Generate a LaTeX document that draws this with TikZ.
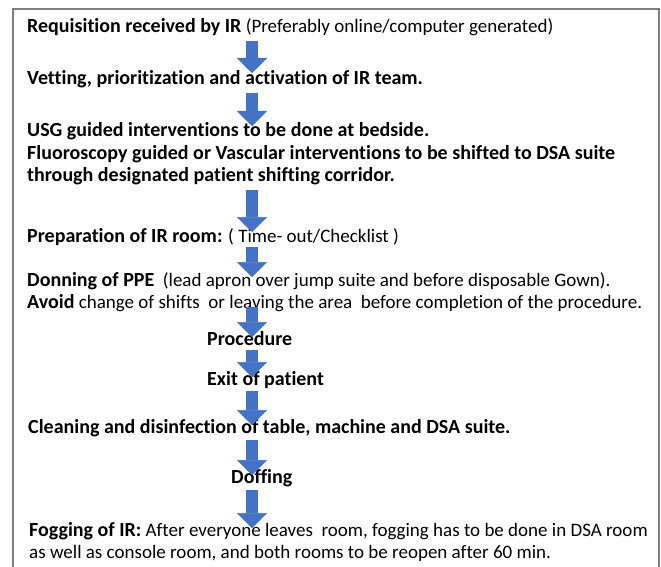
\documentclass[tikz,border=0pt]{standalone}
\usepackage{fontspec}
\setmainfont{Carlito}[Ligatures=CommonOff]
\usepackage{tikz}
\usetikzlibrary{arrows.meta}

\definecolor{arrowblue}{HTML}{4472C4}
\definecolor{framegray}{HTML}{7F7F7F}

% bold lead-in of a step
\newcommand{\steplead}[1]{{\fontsize{20}{23}\selectfont\bfseries #1}}

\begin{document}
\begin{tikzpicture}[
    x=1pt, y=-1pt,
    step text/.style={anchor=base west, inner sep=0pt, font=\fontsize{19}{23}\selectfont},
    flow arrow/.style={
        arrowblue,
        line width=12pt,
        -{Triangle[width=30pt, length=15pt, line width=0.5pt]}
    },
    frame line/.style={framegray, line width=1.4pt}
]
\useasboundingbox (0,0) rectangle (661,567);

% ==================== FRAME ====================
\draw[frame line] (13,567) -- (13,9) -- (659,9) -- (659,567);

% ==================== STEPS ====================
\node[step text] (req) at (27,33) {\steplead{Requisition received by IR} (Preferably online/computer generated)};
\node[step text] (vet) at (27,85) {\steplead{Vetting, prioritization and activation of IR team.}};

\node[step text] (usg) at (27,137) {\steplead{USG guided interventions to be done at bedside.}};
\node[step text] (fluoro) at (27,159) {\steplead{Fluoroscopy guided or Vascular interventions to be shifted to DSA suite}};
\node[step text] (corridor) at (27,181) {\steplead{through designated patient shifting corridor.}};

\node[step text] (prep) at (27,242) {\steplead{Preparation of IR room:} ( Time- out/Checklist )};

\node[step text] (donning) at (27,286) {\steplead{Donning of PPE}\ \ (lead apron over jump suite and before disposable Gown).};
\node[step text] (avoid) at (27,308) {\steplead{Avoid} change of shifts\ \ or leaving the area\ \ before completion of the procedure.};

\node[step text] (proc) at (207,345) {\steplead{Procedure}};
\node[step text] (exit) at (207,385) {\steplead{Exit of patient}};

\node[step text] (clean) at (28,433) {\steplead{Cleaning and disinfection of table, machine and DSA suite.}};
\node[step text] (doffing) at (231,483) {\steplead{Doffing}};

\node[step text] (fogging) at (29,536) {\steplead{Fogging of IR:} After everyone leaves\ \ room, fogging has to be done in DSA room};
\node[step text] (reopen) at (29,558) {as well as console room, and both rooms to be reopen after 60 min.};

% ==================== ARROWS ====================
\coordinate (a1s) at (252,41);  \coordinate (a1e) at (252,73);
\coordinate (a2s) at (252,93);  \coordinate (a2e) at (252,126);
\coordinate (a3s) at (252,190); \coordinate (a3e) at (252,232);
\coordinate (a4s) at (252,247); \coordinate (a4e) at (252,277);
\coordinate (a5s) at (252,307); \coordinate (a5e) at (252,337);
\coordinate (a6s) at (252,350); \coordinate (a6e) at (252,377);
\coordinate (a7s) at (252,391); \coordinate (a7e) at (252,425);
\coordinate (a8s) at (252,440); \coordinate (a8e) at (252,475);
\coordinate (a9s) at (252,490); \coordinate (a9e) at (252,528);

\foreach \i in {1,...,9}
    \draw[flow arrow] (a\i s) -- (a\i e);

\end{tikzpicture}
\end{document}
